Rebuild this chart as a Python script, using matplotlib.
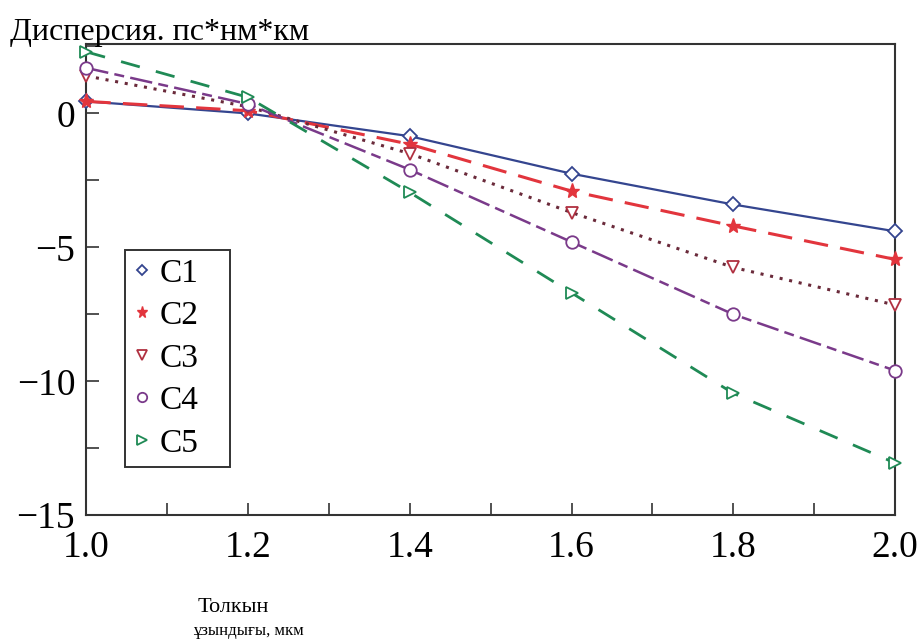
import matplotlib
matplotlib.use("Agg")
import matplotlib.pyplot as plt
from matplotlib.ticker import MultipleLocator

plt.rcParams['font.family'] = ['Liberation Serif', 'DejaVu Serif']

# длина волны, мкм
wl = [1.0, 1.2, 1.4, 1.6, 1.8, 2.0]

# дисперсия для пяти кривых
c1 = [0.45, 0.0, -0.85, -2.25, -3.4, -4.4]
c2 = [0.45, 0.1, -1.15, -2.9, -4.2, -5.45]
c3 = [1.4, 0.25, -1.5, -3.7, -5.75, -7.15]
c4 = [1.7, 0.35, -2.1, -4.8, -7.5, -9.6]
c5 = [2.3, 0.6, -2.95, -6.7, -10.45, -13.05]

names = ['C1', 'C2', 'C3', 'C4', 'C5']

fig = plt.figure(figsize=(9.18, 6.44), dpi=100)
ax = fig.add_axes([0.094, 0.2, 0.881, 0.732])

ax.plot(wl, c1, color='#34458f', lw=1.6, ls='-', marker='D', ms=7,
        mfc='white', mec='#34458f', mew=1.3, label=names[0], clip_on=False, zorder=5)
ax.plot(wl, c2, color='#e2353d', lw=2.2, ls=(0, (8, 4)), marker='*', ms=11,
        mfc='#e2353d', mec='#e2353d', label=names[1], clip_on=False, zorder=5)
ax.plot(wl, c3, color='#6a2a3a', lw=2.2, ls=(0, (1, 2.2)), marker='v', ms=9,
        mfc='white', mec='#b03040', mew=1.3, label=names[2], clip_on=False, zorder=5)
ax.plot(wl, c4, color='#7a3a8a', lw=1.8, ls=(0, (9, 2.5, 4, 2.5)), marker='o', ms=9,
        mfc='white', mec='#7a3a8a', mew=1.3, label=names[3], clip_on=False, zorder=5)
ax.plot(wl, c5, color='#1f8a55', lw=2.0, ls=(0, (7, 6)), marker='>', ms=9,
        mfc='white', mec='#1f8a55', mew=1.3, label=names[4], clip_on=False, zorder=5)

ax.set_xlim(1.0, 2.0)
ax.set_ylim(-15, 2.6)
ax.set_xticks([1.0, 1.2, 1.4, 1.6, 1.8, 2.0])
ax.set_xticklabels(['1.0', '1.2', '1.4', '1.6', '1.8', '2.0'])
ax.xaxis.set_minor_locator(MultipleLocator(0.1))
ax.set_yticks([0, -5, -10, -15])
ax.set_yticklabels(['0', '\u22125', '\u221210', '\u221215'])
ax.yaxis.set_minor_locator(MultipleLocator(2.5))

ax.tick_params(which='both', direction='in', top=False, right=False,
               labelsize=27, width=1.2, color='#333333', length=9)
ax.tick_params(axis='x', which='major', pad=11)
ax.tick_params(axis='y', which='major', pad=8)
for s in ax.spines.values():
    s.set_linewidth(1.5)
    s.set_color('#333333')

# рамка легенды шире текста, как на оригинале
leg = ax.legend(loc='upper left', bbox_to_anchor=(0.048, 0.563, 0.13, 0.0),
                mode='expand', fontsize=24,
                handlelength=0.5, handletextpad=0.3, labelspacing=0.36,
                borderpad=0.25, borderaxespad=0, markerscale=0.75,
                fancybox=False, framealpha=1)
leg.get_frame().set_edgecolor('#333333')
leg.get_frame().set_linewidth(1.4)
for h in leg.legend_handles:
    h.set_linestyle('none')

fig.text(0.011, 0.95, 'Дисперсия. пс*нм*км', fontsize=23, ha='left', va='center')
fig.text(0.215, 0.057, 'Толкын', fontsize=16, ha='left', va='center')
fig.text(0.21, 0.02, 'ұзындығы, мкм', fontsize=12, ha='left', va='center')

fig.savefig('out.png', dpi=100)
